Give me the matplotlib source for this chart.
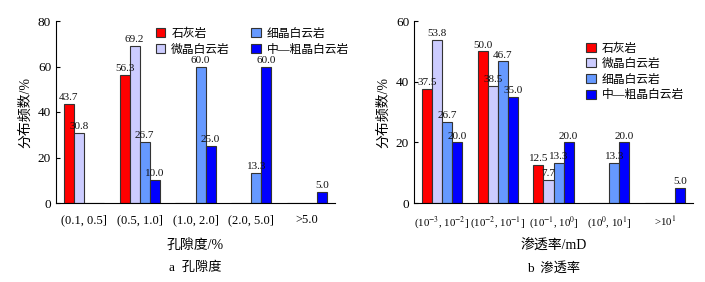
import numpy as np
import matplotlib.pyplot as plt

plt.rcParams['font.family'] = ['Liberation Serif', 'Noto Sans CJK SC']
plt.rcParams['mathtext.fontset'] = 'stix'

# 岩性与颜色
rocks = ['石灰岩', '微晶白云岩', '细晶白云岩', '中—粗晶白云岩']
colors = ['#ff0000', '#ccccff', '#6699ff', '#0000ff']

# 孔隙度分布
por_labels = ['(0.1, 0.5]', '(0.5, 1.0]', '(1.0, 2.0]', '(2.0, 5.0]', '>5.0']
por_vals = [
    [43.7, 56.3, 0, 0, 0],
    [30.8, 69.2, 0, 0, 0],
    [0, 26.7, 60.0, 13.3, 0],
    [0, 10.0, 25.0, 60.0, 5.0],
]

# 渗透率分布
perm_labels = [r'(10$^{-3}$, 10$^{-2}$]', r'(10$^{-2}$, 10$^{-1}$]',
               r'(10$^{-1}$, 10$^{0}$]', r'(10$^{0}$, 10$^{1}$]', r'>10$^{1}$']
perm_vals = [
    [37.5, 50.0, 12.5, 0, 0],
    [53.8, 38.5, 7.7, 0, 0],
    [26.7, 46.7, 13.3, 13.3, 0],
    [20.0, 35.0, 20.0, 20.0, 5.0],
]

fig = plt.figure(figsize=(7.05, 2.82), dpi=100)
ax1 = fig.add_axes([56/705, 1-203/282, 279/705, 182/282])
ax2 = fig.add_axes([414/705, 1-203/282, 279/705, 182/282])

w = 0.18


def draw(ax, labels, vals, ymax, xlabel, title, xfs):
    x = np.arange(len(labels))
    for i, (name, c, v) in enumerate(zip(rocks, colors, vals)):
        pos = x + (i - 1.5) * w
        v = np.array(v)
        ax.bar(pos, v, width=w, color=c, edgecolor='#333333', linewidth=0.8, label=name)
        for p, val in zip(pos, v):
            if val > 0:
                ax.text(p, val + 0.6 * ymax / 60, f'{val:.1f}', ha='center', va='bottom',
                        fontsize=8, color='#111111')
    ax.set_xlim(-0.5, len(labels) - 0.5)
    ax.set_ylim(0, ymax)
    ax.set_yticks(np.arange(0, ymax + 1, 20))
    ax.set_xticks(x)
    ax.set_xticklabels(labels, fontsize=xfs)
    ax.tick_params(axis='x', length=0, pad=8)
    ax.tick_params(axis='y', direction='in', length=3, labelsize=9.5)
    for s in ['top', 'right']:
        ax.spines[s].set_visible(False)
    ax.set_ylabel('分布频数/%', fontsize=10)
    ax.set_xlabel(xlabel, fontsize=10, va='center')
    ax.xaxis.set_label_coords(0.5, -42 / 182)
    bb = ax.get_position()
    fig.text((bb.x0 + bb.x1) / 2, 1 - 268 / 282, title, ha='center', va='center', fontsize=9.5)


draw(ax1, por_labels, por_vals, 80, '孔隙度/%', 'a  孔隙度', 9)
draw(ax2, perm_labels, perm_vals, 60, '渗透率/mD', 'b  渗透率', 7.8)

ax1.legend(ncol=2, loc='upper left', bbox_to_anchor=(0.32, 1.02), frameon=False,
           fontsize=8.5, handlelength=0.8, handleheight=0.8, columnspacing=1.8,
           labelspacing=0.3, handletextpad=0.5)
ax2.legend(ncol=1, loc='upper left', bbox_to_anchor=(0.58, 0.94), frameon=False,
           fontsize=8.5, handlelength=0.8, handleheight=0.8,
           labelspacing=0.3, handletextpad=0.5)

fig.savefig('out.png', dpi=100)
